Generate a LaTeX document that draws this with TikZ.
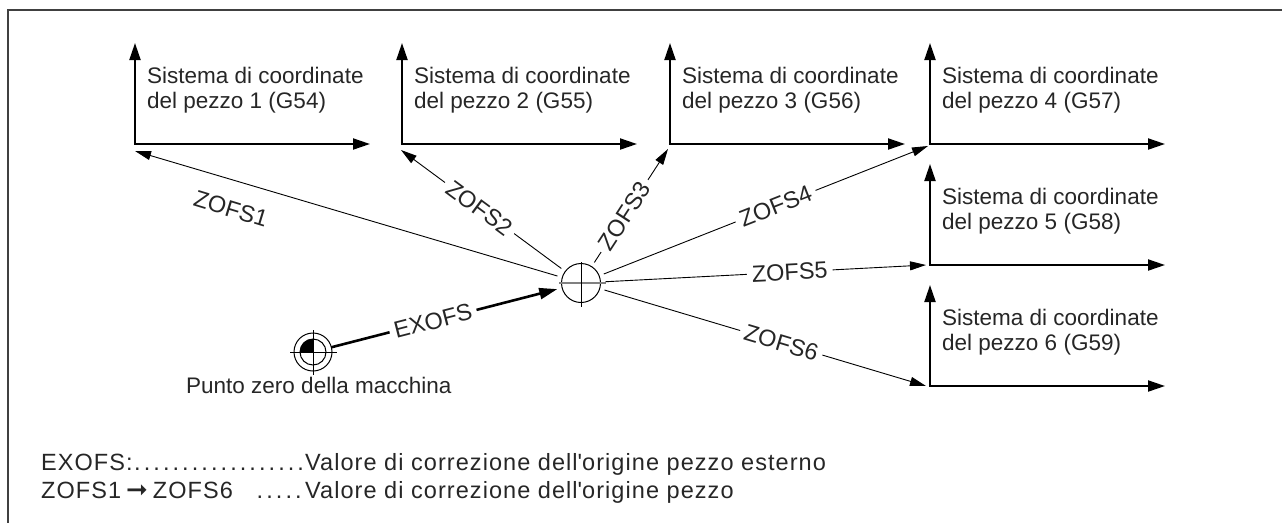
\documentclass[tikz,border=0pt]{standalone}
\usepackage{fontspec}
\setmainfont{Liberation Sans}
\newfontfamily\symfont{DejaVu Sans}
\usetikzlibrary{arrows.meta}
\newcommand\legdot{\hbox to 9.6pt{\hss.\hss}}
\begin{document}
\begin{tikzpicture}[x=1pt,y=-1pt,
  txt/.style={inner sep=0pt, font=\fontsize{22.5}{25}\selectfont, text=black!85},
  big/.style={inner sep=0pt, font=\fontsize{23.5}{28}\selectfont, text=black!85},
  legend/.style={inner sep=0pt, font=\fontsize{23.5}{28}\selectfont\addfontfeature{LetterSpace=4.5}, text=black!85},
  axisline/.style={line width=2pt, line join=miter,
    {Triangle[length=17pt,width=11pt]}-{Triangle[length=17pt,width=11pt]}},
  ofs/.style={line width=0.9pt, -{Triangle[length=16pt,width=9pt]}},
  exo/.style={line width=2.6pt, -{Triangle[length=18pt,width=11pt]}},
  lbl/.style={big, sloped, fill=white, inner sep=5pt},
  ring/.style={circle, draw, line width=1pt, inner sep=0pt},
]
\useasboundingbox (0,0) rectangle (1282,523);
% frame
\draw[line width=1.3pt, black!75] (1282,10) -- (8,10) -- (8,523);

% coordinate systems
\foreach \i/\x/\y in {1/135/144, 2/402/144, 3/670/144, 4/930/144, 5/930/265, 6/930/386}{
  \coordinate (o\i) at (\x,\y);
  \coordinate (ya\i) at (\x,\y-101);
  \coordinate (xa\i) at (\x+235,\y);
  \draw[axisline] (ya\i) -- (o\i) -- (xa\i);
  \pgfmathtruncatemacro\g{53+\i}
  \node[txt, anchor=base west, align=left] (s\i) at (\x+12,\y-36)
    {Sistema di coordinate\\del pezzo \i\ (G\g)};
}

% arrow tips near the origins
\coordinate (t1) at (135,151);
\coordinate (t2) at (401,150);
\coordinate (t3) at (668,149);
\coordinate (t4) at (928,146);
\coordinate (t5) at (926,265);
\coordinate (t6) at (926,386);

% centre point
\node[ring, minimum size=39pt, outer sep=5pt] (c) at (581,283) {};
\draw[black!50, line width=1.2pt] (559,283) -- (606,283);
\draw[line width=1pt] (581,262) -- (581,307);

% machine zero
\node[ring, minimum size=38pt, outer sep=0pt] (m) at (313,352) {};
\draw[line width=1pt] (m.center) circle[radius=13];
\fill (m.center) -- ++(-13,0) arc[start angle=180, end angle=270, radius=13] -- cycle;
\draw[line width=1pt] (290,352) -- (337,352);
\draw[line width=1pt] (313,330) -- (313,375);
\node[txt, anchor=base west] (mz) at (186,393) {Punto zero della macchina};

% offsets
\draw[exo] (m) -- node[lbl, pos=0.45] {EXOFS} (c);
\draw[ofs] (c) -- (t1);
\node[big, rotate=-17] (z1) at (231,209) {ZOFS1};
\draw[ofs] (c) -- node[lbl, pos=0.51] {ZOFS2} (t2);
\draw[ofs] (c) -- node[lbl, pos=0.41] {ZOFS3} (t3);
\draw[ofs] (c) -- node[lbl, pos=0.53] {ZOFS4} (t4);
\draw[ofs] (c) -- node[lbl, pos=0.575] {ZOFS5} (t5);
\draw[ofs] (c) -- node[lbl, pos=0.55] {ZOFS6} (t6);

% legend
\node[legend, anchor=base west] (lgA) at (41,470)
  {\hbox to 262pt{EXOFS:\hfill\legdot\legdot\legdot\legdot\legdot\legdot\legdot\legdot\legdot\legdot\legdot\legdot\legdot\legdot\legdot\legdot\legdot\legdot}};
\node[legend, anchor=base west] (lgAv) at (305,470) {Valore di correzione dell\textquotesingle origine pezzo esterno};
\node[legend, anchor=base west] (lgB) at (41,498)
  {\hbox to 262pt{ZOFS1\hspace{5pt}{\symfont\fontsize{26}{26}\selectfont ➞}\hspace{5pt}ZOFS6\hfill\legdot\legdot\legdot\legdot\legdot}};
\node[legend, anchor=base west] (lgBv) at (305,498) {Valore di correzione dell\textquotesingle origine pezzo};
\end{tikzpicture}
\end{document}
